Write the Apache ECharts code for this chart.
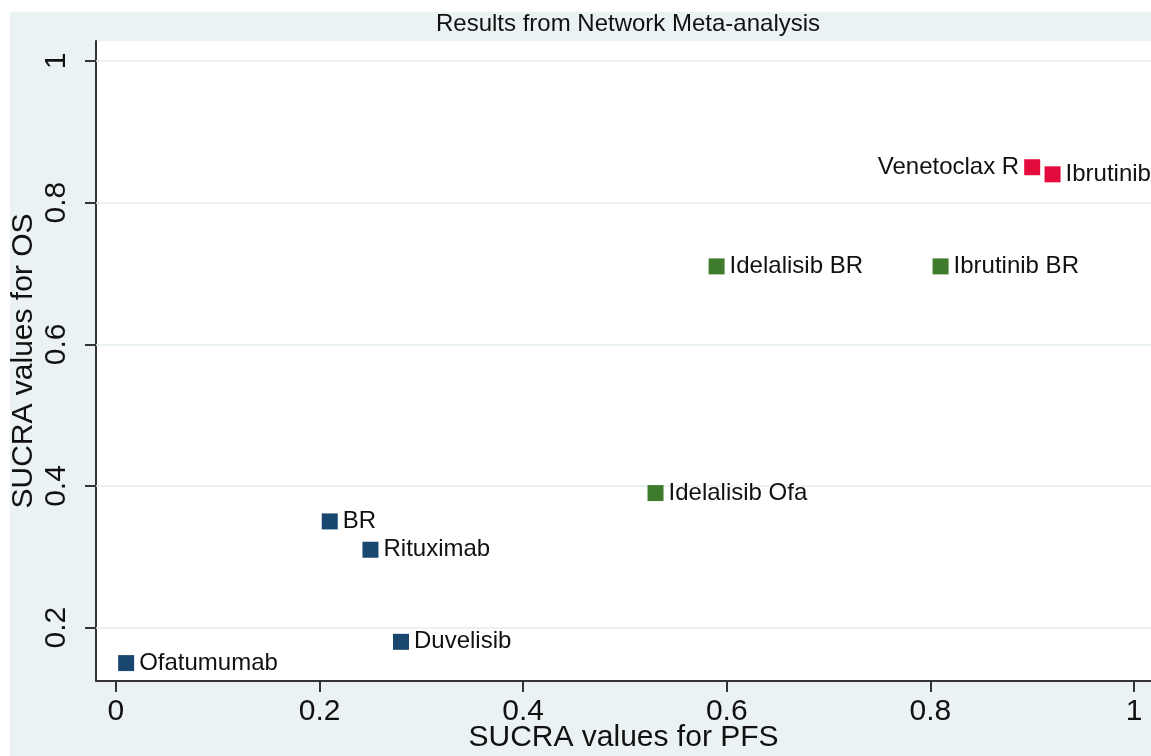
<!DOCTYPE html>
<html>
<head>
<meta charset="utf-8">
<script src="https://cdn.jsdelivr.net/npm/echarts@6/dist/echarts.min.js"></script>
<style>
  html, body { margin: 0; padding: 0; background: #ffffff; }
  #chart { width: 1151px; height: 756px; }
</style>
</head>
<body>
<div id="chart"></div>
<script>
// SUCRA rankings: progression-free survival (x) vs overall survival (y)
const lowTierNames = ['Ofatumumab', 'BR', 'Rituximab', 'Duvelisib'];
const lowTierPFS   = [0.01, 0.21, 0.25, 0.28];
const lowTierOS    = [0.15, 0.35, 0.31, 0.18];

const midTierNames = ['Idelalisib Ofa', 'Idelalisib BR', 'Ibrutinib BR'];
const midTierPFS   = [0.53, 0.59, 0.81];
const midTierOS    = [0.39, 0.71, 0.71];

const topTierNames = ['Venetoclax R', 'Ibrutinib'];
const topTierPFS   = [0.90, 0.92];
const topTierOS    = [0.85, 0.84];

// labels placed left of the marker (everything else sits on the right)
const leftLabelled = ['Venetoclax R'];

const xTickValues = [0, 0.2, 0.4, 0.6, 0.8, 1];
const yTickValues = [0.2, 0.4, 0.6, 0.8, 1];

const FONT = '"Liberation Sans", Arial, Helvetica, sans-serif';

function points(names, xs, ys) {
  return names.map((n, i) => ({
    name: n,
    value: [xs[i], ys[i]],
    label: { position: leftLabelled.includes(n) ? 'left' : 'right' }
  }));
}

function tierSeries(name, color, data) {
  return {
    name: name,
    type: 'scatter',
    symbol: 'rect',
    symbolSize: 16,
    itemStyle: { color: color, opacity: 1 },
    data: data,
    z: 5,
    label: {
      show: true,
      formatter: p => p.name,
      color: '#111111',
      fontFamily: FONT,
      fontSize: 24,
      distance: 5
    },
    emphasis: { disabled: true }
  };
}

const fmt = v => String(+(+v).toFixed(1));

const chart = echarts.init(document.getElementById('chart'), null, { renderer: 'canvas' });

chart.setOption({
  animation: false,
  backgroundColor: '#ffffff',
  textStyle: { fontFamily: FONT },
  graphic: [{
    type: 'rect',
    z: -100,
    silent: true,
    shape: { x: 10, y: 12, width: 1141, height: 744 },
    style: { fill: '#EAF2F3' }
  }],
  title: {
    text: 'Results from Network Meta-analysis',
    left: 623,
    top: 7,
    textAlign: 'center',
    textStyle: { fontFamily: FONT, fontSize: 24, fontWeight: 'normal', color: '#111111' }
  },
  grid: {
    left: 96, right: 0, top: 41, bottom: 75,
    outerBoundsMode: 'none',
    containLabel: false,
    show: true, backgroundColor: '#ffffff', borderWidth: 0
  },
  xAxis: {
    type: 'value',
    min: -0.0196, max: 1.0167,
    name: 'SUCRA values for PFS',
    nameLocation: 'middle',
    nameGap: 42,
    nameMoveOverlap: false,
    nameTextStyle: { fontFamily: FONT, fontSize: 30, color: '#111111', lineHeight: 30 },
    axisLine: { show: true, onZero: false, lineStyle: { color: '#333333', width: 2 } },
    axisTick: { show: true, length: 11, customValues: xTickValues, lineStyle: { color: '#333333', width: 2 } },
    axisLabel: {
      customValues: xTickValues, formatter: fmt,
      fontFamily: FONT, fontSize: 30, color: '#111111', lineHeight: 30, margin: 16
    },
    splitLine: { show: false }
  },
  yAxis: {
    type: 'value',
    min: 0.1247, max: 1.0282,
    name: 'SUCRA values for OS',
    nameLocation: 'middle',
    nameGap: 57,
    nameRotate: 90,
    nameMoveOverlap: false,
    nameTextStyle: { fontFamily: FONT, fontSize: 30, color: '#111111', lineHeight: 30 },
    axisLine: { show: true, onZero: false, lineStyle: { color: '#333333', width: 2 } },
    axisTick: { show: true, length: 11, customValues: yTickValues, lineStyle: { color: '#333333', width: 2 } },
    axisLabel: {
      customValues: yTickValues, formatter: fmt, rotate: 90,
      fontFamily: FONT, fontSize: 30, color: '#111111', lineHeight: 30, margin: 24
    },
    splitLine: { show: false }
  },
  series: [
    {
      name: 'gridlines',
      type: 'scatter',
      data: [],
      z: 1,
      silent: true,
      markLine: {
        silent: true,
        symbol: 'none',
        animation: false,
        label: { show: false },
        lineStyle: { color: '#E3EEF0', width: 1.5, type: 'solid' },
        data: yTickValues.map(v => ({ yAxis: v }))
      }
    },
    tierSeries('Lower', '#1A476F', points(lowTierNames, lowTierPFS, lowTierOS)),
    tierSeries('Middle', '#3E7B2C', points(midTierNames, midTierPFS, midTierOS)),
    tierSeries('Top', '#E30A3C', points(topTierNames, topTierPFS, topTierOS))
  ]
});
</script>
</body>
</html>
